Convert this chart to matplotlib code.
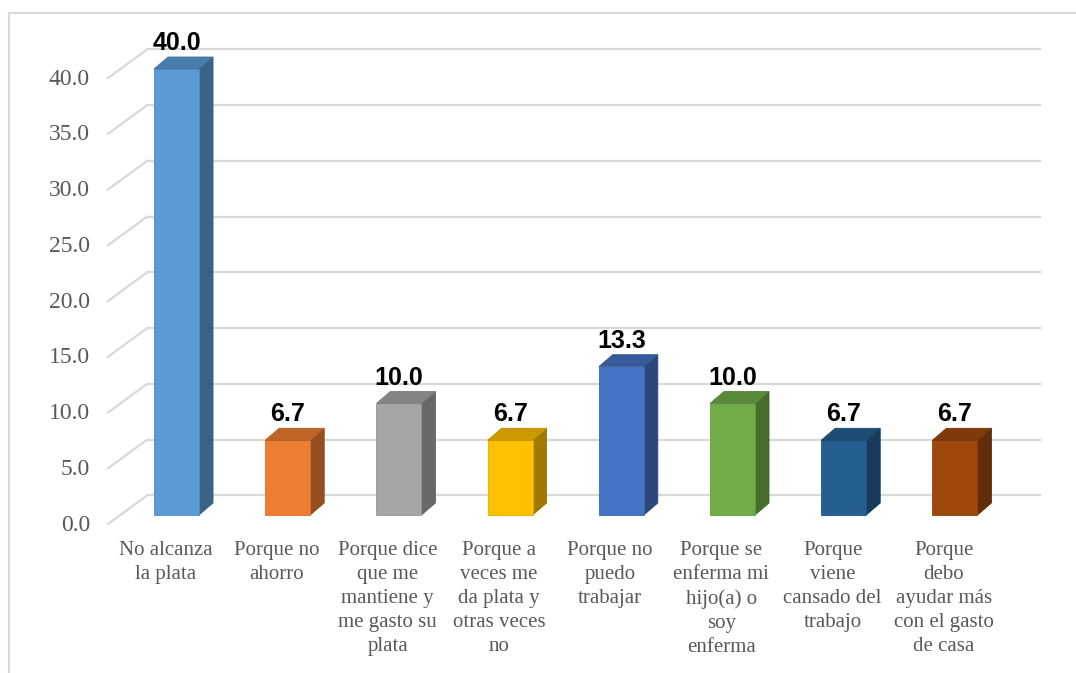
import matplotlib
matplotlib.use("Agg")
import matplotlib.pyplot as plt
from matplotlib.colors import to_rgb
from matplotlib.patches import Polygon

categories = [
    "No alcanza\nla plata",
    "Porque no\nahorro",
    "Porque dice\nque me\nmantiene y\nme gasto su\nplata",
    "Porque a\nveces me\nda plata y\notras veces\nno",
    "Porque no\npuedo\ntrabajar",
    "Porque se\nenferma mi\nhijo(a) o\nsoy\nenferma",
    "Porque\nviene\ncansado del\ntrabajo",
    "Porque\ndebo\nayudar más\ncon el gasto\nde casa",
]
values = [40.0, 6.7, 10.0, 6.7, 13.3, 10.0, 6.7, 6.7]
colors = ["#5B9BD5", "#ED7D31", "#A5A5A5", "#FFC000",
          "#4472C4", "#70AD47", "#255E91", "#9E480E"]
yticks = [0, 5, 10, 15, 20, 25, 30, 35, 40]

W, H = 1076, 673
fig = plt.figure(figsize=(W / 100, H / 100), dpi=100)
ax = fig.add_axes([0, 0, 1, 1])
ax.axis("off")

# pixel mapping: x_px = 176.5 + 111.2 * x ; y_px = 515 - 11.15 * v
x0, sx = 176.5, 111.2
y0, sy = 515.0, 11.15
ax.set_xlim((0 - x0) / sx, (W - x0) / sx)
ax.set_ylim((y0 - H) / sy, y0 / sy)


def px(x):
    return (x - x0) / sx


bar_w = 0.405
dx, dy = 14 / sx, 12 / sy
back_off = 1.75
front_off = -0.81
grid_c = "#D9D9D9"

# walls / gridlines
for v in yticks:
    ax.plot([px(108), px(147)], [v + front_off, v + back_off], color=grid_c, lw=1.6, zorder=1)
    ax.plot([px(147), px(1040)], [v + back_off, v + back_off], color=grid_c, lw=1.6, zorder=1)
    ax.text(px(90), v - 0.9, f"{v:.1f}", ha="right", va="center",
            fontfamily="Liberation Serif", fontsize=17, color="#595959")


def shade(c, f):
    r, g, b = to_rgb(c)
    return (r * f, g * f, b * f)


for i, (v, c) in enumerate(zip(values, colors)):
    l, r = i - bar_w / 2, i + bar_w / 2
    ax.bar(i, v, width=bar_w, color=c, edgecolor=shade(c, 0.9), lw=0.6, zorder=3)
    side = [(r, 0), (r + dx, dy), (r + dx, v + dy), (r, v)]
    top = [(l, v), (r, v), (r + dx, v + dy), (l + dx, v + dy)]
    ax.add_patch(Polygon(side, closed=True, fc=shade(c, 0.63), ec=shade(c, 0.6), lw=0.6, zorder=2))
    ax.add_patch(Polygon(top, closed=True, fc=shade(c, 0.8), ec=shade(c, 0.75), lw=0.6, zorder=3))
    ax.text(i, v + 1.7, f"{v:.1f}", ha="center", va="baseline",
            fontfamily="Liberation Sans", fontweight="bold", fontsize=18, color="black", zorder=4)
    ax.text(i - 0.1, -2.35, categories[i], ha="center", va="top", linespacing=1.35,
            fontfamily="Liberation Serif", fontsize=15, color="#595959")

# chart area border (top and left visible)
fig.add_artist(plt.Line2D([9 / W, 9 / W], [0, 1 - 13 / H], color=grid_c, lw=1.5))
fig.add_artist(plt.Line2D([9 / W, 1], [1 - 13 / H, 1 - 13 / H], color=grid_c, lw=1.5))

fig.savefig("out.png", dpi=100)
